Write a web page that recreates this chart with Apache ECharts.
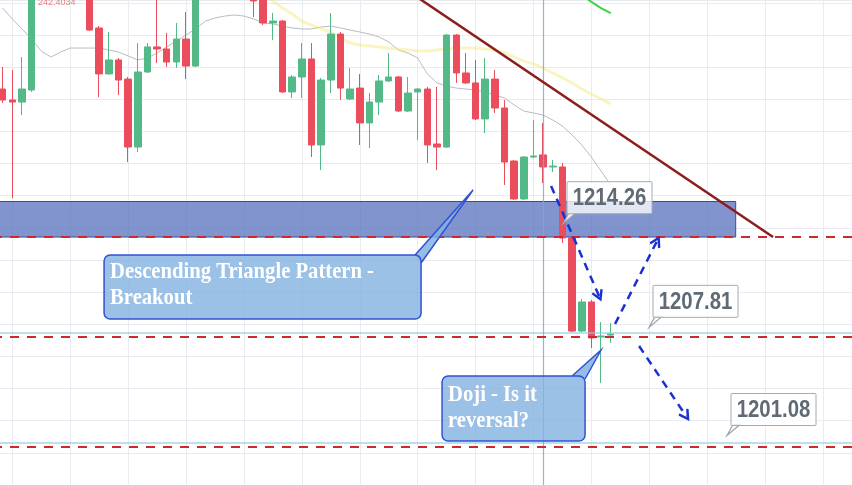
<!DOCTYPE html>
<html><head><meta charset="utf-8">
<script src="https://cdn.jsdelivr.net/npm/echarts@6/dist/echarts.min.js"></script>
<style>html,body{margin:0;padding:0;background:#fff;overflow:hidden;width:852px;height:485px}#c{width:859px;height:485px;margin-left:-7px}</style>
</head><body><div id="c"></div>
<script>
// ---- data ----
// candles: [open, close, low, high], one per bar starting at bar index 1
const candles = [
 [1222.64,1221.96,1221.77,1224.01],[1221.96,1221.83,1215.86,1223.82],[1221.83,1222.64,1221.02,1224.63],
 [1222.58,1230.05,1222.46,1230.67],[1230.05,1231.20,1229.60,1231.80],[1231.20,1230.40,1229.90,1231.90],
 [1230.40,1231.60,1230.00,1232.30],[1231.60,1230.80,1230.20,1232.10],[1230.80,1229.90,1229.40,1231.30],
 [1229.90,1226.31,1226.25,1230.30],[1226.44,1223.58,1222.14,1226.56],[1223.58,1224.45,1223.55,1226.19],
 [1224.45,1223.20,1222.27,1224.57],[1223.26,1219.03,1218.10,1223.39],[1219.03,1223.70,1218.72,1225.50],
 [1223.70,1225.26,1223.64,1225.50],[1225.26,1225.13,1224.26,1228.40],[1225.13,1224.32,1224.01,1226.13],
 [1224.32,1225.75,1223.95,1226.75],[1225.75,1224.07,1223.26,1227.43],[1224.07,1229.43,1224.01,1230.20],
 [1229.43,1230.60,1229.00,1231.20],[1230.60,1231.50,1230.10,1232.00],[1231.50,1230.70,1230.20,1231.90],
 [1230.70,1229.80,1229.30,1231.10],[1229.80,1228.90,1228.50,1230.20],[1228.60,1228.12,1227.12,1229.00],
 [1228.70,1226.75,1226.62,1229.10],[1226.75,1226.87,1225.69,1227.37],[1226.87,1222.46,1222.39,1226.94],
 [1222.46,1223.39,1222.08,1223.51],[1223.39,1224.51,1222.08,1225.50],[1224.51,1219.16,1218.41,1225.50],
 [1219.16,1223.20,1217.60,1223.33],[1223.20,1226.06,1222.39,1227.37],[1226.06,1222.70,1221.96,1226.19],
 [1222.02,1222.64,1221.96,1223.95],[1222.70,1220.53,1219.16,1223.58],[1220.53,1221.83,1218.97,1222.39],
 [1221.83,1223.14,1221.02,1223.51],[1223.14,1223.39,1223.08,1224.88],[1223.39,1221.27,1221.21,1223.45],
 [1221.27,1222.39,1221.21,1223.39],[1222.46,1222.64,1219.47,1222.70],[1222.64,1219.16,1218.04,1222.77],
 [1219.22,1219.03,1217.60,1222.77],[1219.03,1226.00,1218.97,1226.06],[1226.00,1223.64,1223.02,1226.06],
 [1223.64,1223.02,1222.95,1224.88],[1223.02,1220.78,1220.71,1224.45],[1220.78,1223.26,1219.90,1224.57],
 [1223.26,1221.46,1221.15,1223.82],[1221.46,1218.10,1216.67,1221.96],[1218.16,1215.80,1215.73,1218.22],
 [1215.80,1218.41,1215.73,1218.47],[1218.41,1218.47,1218.35,1220.71],[1218.54,1217.79,1216.79,1220.53],
 [1217.79,1217.85,1217.48,1218.22],[1217.79,1213.37,1213.06,1218.04],[1213.37,1207.58,1207.52,1213.43],
 [1207.58,1209.39,1207.52,1209.57],[1209.39,1207.15,1206.53,1209.51],[1207.21,1207.27,1204.35,1208.14],
 [1207.33,1207.40,1206.84,1208.08]
];
const firstBar = 1;
const barCount = 90;
// moving averages
const greyMA = [1227.68,1227.00,1226.38,1225.75,1225.01,1224.63,1224.94,1225.19,1225.19,1225.19,1225.19,1225.07,
 1224.94,1224.70,1224.45,1224.57,1224.88,1225.26,1225.63,1226.00,1226.38,1226.87,1227.06,1227.18,1227.25,1227.18,
 1227.00,1226.75,1226.69,1226.56,1226.44,1226.38,1226.38,1226.50,1226.56,1226.44,1226.31,1226.19,1226.06,1225.88,
 1225.57,1225.07,1224.88,1224.57,1223.58,1223.02,1222.83,1222.70,1222.64,1222.58,1222.46,1222.27,1222.08,1221.65,
 1221.27,1221.15,1221.02,1220.71,1220.34,1219.78,1219.16,1218.41,1217.54,1216.67];
const yellowStart = 26;
const yellowMA = [1228.99,1228.55,1228.12,1227.68,1227.31,1226.87,1226.62,1226.38,1226.19,1225.82,1225.50,1225.38,
 1225.32,1225.26,1225.19,1225.13,1225.07,1225.01,1225.01,1225.07,1225.13,1225.19,1225.19,1225.19,1225.13,1225.07,
 1224.88,1224.63,1224.38,1224.20,1223.95,1223.64,1223.33,1223.02,1222.64,1222.33,1222.02,1221.71];
const greenStart = 60;
const greenMA = [1228.49,1228.06,1227.68,1227.37];
// horizontal levels
const dashedLevels = [1213.43, 1207.21, 1200.36];
const lightLevels = [1207.46, 1200.61];
const zone = {from: 0, to: 76.95, low: 1213.43, high: 1215.64};
const crosshairBar = 57;
// trend line endpoints [bar position, price]
const trendLine = [[43.0, 1228.74], [80.82, 1213.43]];
// projection arrows [[bar, price], [bar, price]]
const arrows = [
 [[57.82, 1216.61], [62.79, 1209.76]],
 [[64.45, 1208.02], [68.80, 1213.18]],
 [[66.94, 1206.65], [71.81, 1202.29]]
];
// price tags: text and anchor [bar, price]
const tagTexts = ['1214.26', '1207.81', '1201.08'];
const tagAnchors = [[59.06, 1214.26], [67.97, 1207.81], [76.05, 1201.08]];
const calloutTexts = [['Descending Triangle Pattern -', 'Breakout'], ['Doji - Is it', 'reversal?']];
const calloutAnchors = [[49.74, 1216.36], [63.0, 1206.40]];

// ---- chart ----
const barNames = Array.from({length: barCount}, (_, k) => 'B' + k);
const UP = '#53b987', DOWN = '#eb4d5c', GRID = '#e8ecf0';
const chevron = 'path://M5,0 L10,8 L8.4,9.2 L5,3.8 L1.6,9.2 L0,8 Z';

const chart = echarts.init(document.getElementById('c'), null, {renderer: 'canvas'});
const option = {
  animation: false,
  backgroundColor: '#ffffff',
  grid: {left: 0, right: 0, top: 0, bottom: 0, containLabel: false},
  xAxis: [
    {type: 'category', data: barNames, boundaryGap: false,
     axisLine: {show: false}, axisTick: {show: false}, axisLabel: {show: false},
     splitLine: {show: true, interval: (i) => i % 6 === 2, lineStyle: {color: GRID, width: 1}}},
    {type: 'value', min: 0, max: barCount - 1, show: false, splitLine: {show: false}}
  ],
  yAxis: {type: 'value', min: 1198, max: 1228.18, interval: 2,
    axisLine: {show: false}, axisTick: {show: false}, axisLabel: {show: false},
    splitLine: {show: true, lineStyle: {color: GRID, width: 1}}},
  series: [
    {type: 'line', xAxisIndex: 1, data: [], z: 1, silent: true,
     markArea: {silent: true, itemStyle: {color: 'rgba(88,112,190,0.75)', borderColor: '#3a4b9c', borderWidth: 1},
       data: [[{coord: [zone.from, zone.high]}, {coord: [zone.to, zone.low]}]]}},
    {type: 'line', data: greyMA.map((v, j) => [firstBar + j, v]), symbol: 'none', z: 2, silent: true,
     lineStyle: {color: '#b9bcc0', width: 1}},
    {type: 'line', data: yellowMA.map((v, j) => [firstBar + yellowStart + j, v]), symbol: 'none', z: 2, silent: true,
     lineStyle: {color: 'rgba(242,232,120,0.45)', width: 3}},
    {type: 'line', data: greenMA.map((v, j) => [firstBar + greenStart + j, v]), symbol: 'none', z: 2, silent: true,
     lineStyle: {color: '#3fcf48', width: 2}},
    {type: 'candlestick', data: candles.map((c, i) => [firstBar + i].concat(c)), encode: {x: 0, y: [1, 2, 3, 4]},
     barWidth: 7, z: 3, silent: true,
     itemStyle: {color: UP, color0: DOWN, borderColor: UP, borderColor0: DOWN, borderWidth: 1}},
    {type: 'line', xAxisIndex: 1, data: [], z: 4, silent: true,
     markLine: {silent: true, symbol: ['none', 'none'], label: {show: false}, animation: false,
       data: [
         ...lightLevels.map(v => ({yAxis: v, lineStyle: {color: 'rgba(140,205,228,0.8)', width: 1.5, type: 'solid'}})),
         {xAxis: crosshairBar, lineStyle: {color: 'rgba(110,175,220,0.85)', width: 1.2, type: 'solid'}},
         ...dashedLevels.map(v => ({yAxis: v, lineStyle: {color: '#cc2a2e', width: 2, type: [9, 8]}}))
       ]}},
    {type: 'line', xAxisIndex: 1, data: trendLine, symbol: 'none', z: 5, silent: true,
     lineStyle: {color: '#8b1d1d', width: 2.5}},
    {type: 'line', xAxisIndex: 1, data: [], z: 6, silent: true,
     markLine: {silent: true, symbol: ['none', chevron], symbolSize: [12, 12], label: {show: false}, animation: false,
       lineStyle: {color: '#1b30d2', width: 2.5, type: [8, 6]},
       data: arrows.map(a => [{coord: a[0]}, {coord: a[1]}])}}
  ]
};
chart.setOption(option);

const px = (p) => chart.convertToPixel({xAxisIndex: 1, yAxisIndex: 0}, p);
const gfx = [];
// price tags
tagTexts.forEach((t, i) => {
  const tip = px(tagAnchors[i]);
  const bx = tip[0] + 4, by = tip[1] - 42, bw = 85, bh = 32;
  gfx.push({type: 'polygon', z: 100, shape: {points: [[bx + 2, by + bh - 1], [bx + 9, by + bh - 1], [tip[0], tip[1]]]},
    style: {fill: 'rgba(255,255,255,0.85)', stroke: '#9aa2aa', lineWidth: 1.2}});
  gfx.push({type: 'rect', z: 101, shape: {x: bx, y: by, width: bw, height: bh, r: 1},
    style: {fill: 'rgba(255,255,255,0.78)', stroke: '#a3abb3', lineWidth: 1}});
  gfx.push({type: 'text', z: 102, x: bx + bw / 2, y: by + bh / 2 + 1, scaleX: 0.85,
    style: {text: t, font: 'bold 24px "Liberation Sans", Arial, sans-serif', fill: '#5f6a74', align: 'center', verticalAlign: 'middle'}});
});
// callouts
const calloutBoxes = [{dx: -369, dy: 65, w: 317, h: 64, ty: [17, 43], base: [[-6, 0], [0, 8]]},
                      {dx: -159, dy: 26, w: 143, h: 65, ty: [19, 45], base: [[-13, 0], [0, 3]]}];
calloutTexts.forEach((lines, i) => {
  const tip = px(calloutAnchors[i]);
  const b = calloutBoxes[i];
  const bx = tip[0] + b.dx, by = tip[1] + b.dy;
  const p1 = [bx + b.w + b.base[0][0], by + b.base[0][1]], p2 = [bx + b.w + b.base[1][0], by + b.base[1][1]];
  gfx.push({type: 'polygon', z: 100, shape: {points: [p1, p2, tip]}, style: {fill: 'rgba(130,178,225,0.85)'}});
  gfx.push({type: 'rect', z: 101, shape: {x: bx, y: by, width: b.w, height: b.h, r: 6},
    style: {fill: 'rgba(130,178,225,0.8)', stroke: '#3352d4', lineWidth: 1.5}});
  gfx.push({type: 'polyline', z: 102, shape: {points: [p1, tip, p2]}, style: {stroke: '#3352d4', lineWidth: 1.5, fill: null}});
  lines.forEach((ln, k) => {
    gfx.push({type: 'text', z: 103, x: bx + 6, y: by + b.ty[k], scaleX: 0.86,
      style: {text: ln, font: 'bold 24px "Liberation Serif", "Times New Roman", serif', fill: '#ffffff', align: 'left', verticalAlign: 'middle'}});
  });
});
gfx.push({type: 'text', z: 103, x: 45, y: -2, style: {text: '242.4034', font: '9px "Liberation Sans", Arial', fill: '#e06060', opacity: 0.8}});
chart.setOption({graphic: gfx});
</script>
</body></html>
